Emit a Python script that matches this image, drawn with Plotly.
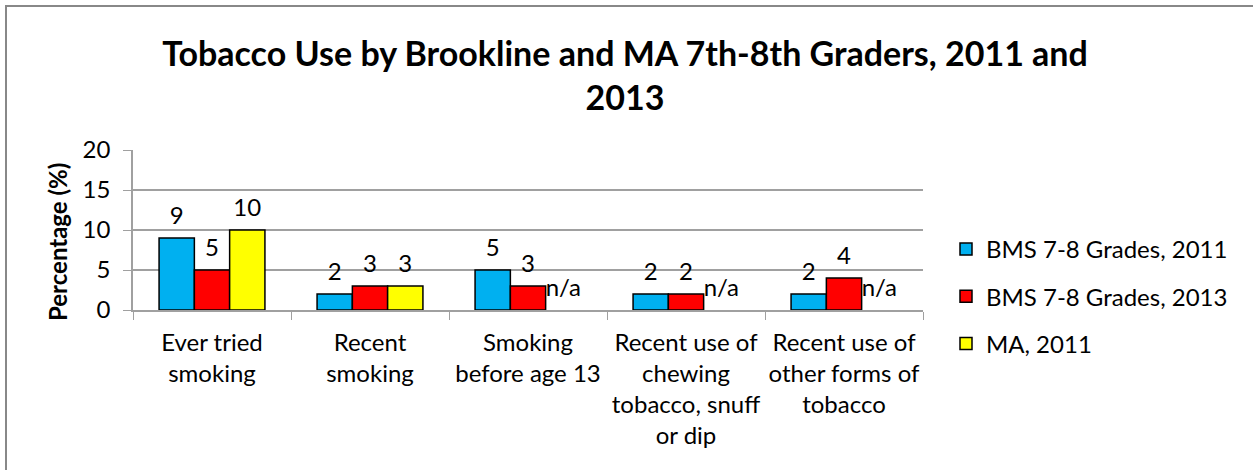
import plotly.graph_objects as go

categories = ["Ever tried<br>smoking", "Recent<br>smoking", "Smoking<br>before age 13",
              "Recent use of<br>chewing<br>tobacco, snuff<br>or dip",
              "Recent use of<br>other forms of<br>tobacco"]
bms_2011 = [9, 2, 5, 2, 2]
bms_2013 = [5, 3, 3, 2, 4]
ma_2011 = [10, 3, None, None, None]

series = [
    ("BMS 7-8 Grades, 2011", bms_2011, "#00b0f0"),
    ("BMS 7-8 Grades, 2013", bms_2013, "#ff0000"),
    ("MA, 2011", ma_2011, "#ffff00"),
]

FONT = "Lato"
FS = 24
GAP = 0.33
fig = go.Figure()
for i, (name, vals, color) in enumerate(series):
    fig.add_trace(go.Bar(
        x=categories, y=vals, name=name, legendgroup=f"g{i}",
        marker=dict(color=color, line=dict(color="black", width=1.5)),
    ))
for i, (name, vals, color) in enumerate(series):
    y = [v if v is not None else 0 for v in vals]
    txt = [str(v) if v is not None else "n/a" for v in vals]
    fig.add_trace(go.Scatter(
        x=categories, y=y, text=txt, mode="markers+text", textposition="top center",
        marker=dict(size=12, opacity=0), showlegend=False, hoverinfo="skip",
        cliponaxis=False, textfont=dict(family=FONT, size=FS, color="black"),
    ))

W, H = 1253, 470
L, R, T, B = 133, 330, 150, 160
pw, ph = W - L - R, H - T - B

def px(x):
    return (x - L) / pw

def py(y):
    return (H - B - y) / ph

fig.update_layout(
    width=W, height=H,
    margin=dict(l=L, r=R, t=T, b=B),
    paper_bgcolor="white", plot_bgcolor="white",
    barmode="group", bargap=GAP, bargroupgap=0,
    scattermode="group", scattergap=GAP,
    font=dict(family=FONT, size=FS, color="black"),
    title=dict(text="<b>Tobacco Use by Brookline and MA 7th-8th Graders, 2011 and<br>2013</b>",
               x=625 / W, xanchor="center", y=1 - 66 / H, yanchor="top",
               font=dict(family=FONT, size=34, color="black")),
    legend=dict(x=px(946), xanchor="left", y=py(227), yanchor="top",
                font=dict(family=FONT, size=FS), tracegroupgap=13,
                itemwidth=30, traceorder="grouped", bgcolor="rgba(0,0,0,0)"),
    showlegend=True,
    annotations=[dict(text="<b>Percentage (%)</b>", textangle=-90, showarrow=False,
                      xref="paper", yref="paper", x=px(57), y=py(242),
                      xanchor="center", yanchor="middle",
                      font=dict(family=FONT, size=FS, color="black"))],
)
fig.update_xaxes(
    tickson="boundaries", ticks="outside", ticklen=8, tickcolor="#a0a0a0",
    showline=True, linecolor="#a0a0a0", linewidth=1.5, automargin=False,
    ticklabelstandoff=10, tickangle=0,
    tickfont=dict(family=FONT, size=FS), showgrid=False,
)
fig.update_yaxes(
    range=[0, 20], dtick=5, ticks="outside", ticklen=8, tickcolor="#a0a0a0",
    showline=True, linecolor="#a0a0a0", linewidth=1.5, automargin=False,
    gridcolor="#a0a0a0", gridwidth=1.5, zeroline=False,
    ticklabelstandoff=8,
    tickfont=dict(family=FONT, size=FS),
)
fig.add_shape(type="rect", xref="paper", yref="paper",
              x0=px(6), x1=px(1270), y0=py(6), y1=py(490),
              line=dict(color="#888888", width=2), layer="below")

fig.write_html("out.html", config={"displayModeBar": False},
               post_script="document.body.style.margin='0';document.body.style.overflow='hidden';")
